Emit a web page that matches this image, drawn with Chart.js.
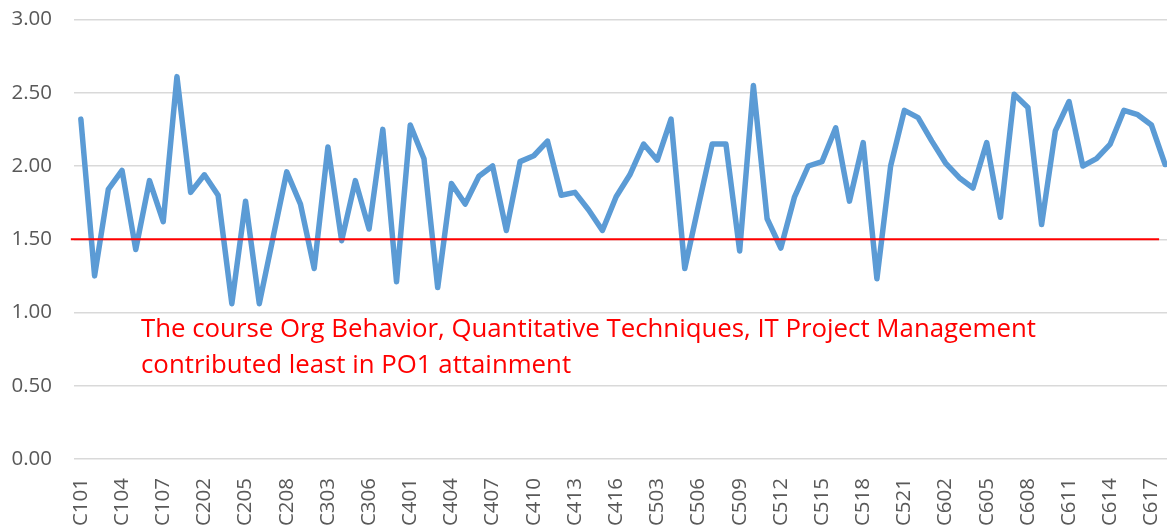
<!DOCTYPE html>
<html>
<head>
<meta charset="utf-8">
<script src="https://cdn.jsdelivr.net/npm/chart.js@4"></script>
<style>
	html, body { margin: 0; padding: 0; background: #fff; overflow: hidden; }
	#wrap { width: 1172px; height: 529px; }
</style>
</head>
<body>
<div id="wrap"><canvas id="chart" width="1172" height="529"></canvas></div>
<script>
const courses = [
	'C101', 'C102', 'C103', 'C104', 'C105', 'C106', 'C107', 'C108',
	'C201', 'C202', 'C203', 'C204', 'C205', 'C206', 'C207', 'C208',
	'C301', 'C302', 'C303', 'C304', 'C305', 'C306', 'C307', 'C308',
	'C401', 'C402', 'C403', 'C404', 'C405', 'C406', 'C407', 'C408',
	'C409', 'C410', 'C411', 'C412', 'C413', 'C414', 'C415', 'C416',
	'C501', 'C502', 'C503', 'C504', 'C505', 'C506', 'C507', 'C508', 'C509', 'C510', 'C511',
	'C512', 'C513', 'C514', 'C515', 'C516', 'C517', 'C518', 'C519', 'C520', 'C521', 'C522',
	'C601', 'C602', 'C603', 'C604', 'C605', 'C606', 'C607', 'C608', 'C609',
	'C610', 'C611', 'C612', 'C613', 'C614', 'C615', 'C616', 'C617', 'C618'
];
const attainment = [
	2.32, 1.25, 1.84, 1.97, 1.43, 1.90, 1.62, 2.61,
	1.82, 1.94, 1.80, 1.06, 1.76, 1.06, 1.51, 1.96,
	1.74, 1.30, 2.13, 1.49, 1.90, 1.57, 2.25, 1.21,
	2.28, 2.05, 1.17, 1.88, 1.74, 1.93, 2.00, 1.56,
	2.03, 2.07, 2.17, 1.80, 1.82, 1.70, 1.56, 1.79,
	1.94, 2.15, 2.04, 2.32, 1.30, 1.73, 2.15, 2.15, 1.42, 2.55, 1.64,
	1.44, 1.79, 2.00, 2.03, 2.26, 1.76, 2.16, 1.23, 2.00, 2.38, 2.33,
	2.17, 2.02, 1.92, 1.85, 2.16, 1.65, 2.49, 2.40, 1.60,
	2.24, 2.44, 2.00, 2.05, 2.15, 2.38, 2.35, 2.28, 2.01
];
const yTicks = [0, 0.5, 1, 1.5, 2, 2.5, 3];
const threshold = 1.5;
const note = [
	'The course Org Behavior, Quantitative Techniques, IT Project Management',
	'contributed least in PO1 attainment'
];
const font = '"Open Sans", "Noto Sans", sans-serif';

// red target line + annotation, drawn on top of the series
const overlay = {
	id: 'overlay',
	afterDatasetsDraw(chart) {
		const ctx = chart.ctx;
		const x = chart.scales.x;
		const y = chart.scales.y.getPixelForValue(threshold);
		ctx.save();
		ctx.strokeStyle = '#ff0000';
		ctx.lineWidth = 2;
		ctx.beginPath();
		ctx.moveTo(x.getPixelForValue(-0.73), y);
		ctx.lineTo(x.getPixelForValue(78.56), y);
		ctx.stroke();
		ctx.fillStyle = '#ff0000';
		ctx.font = '25.8px ' + font;
		ctx.textBaseline = 'alphabetic';
		ctx.fillText(note[0], 141, 337);
		ctx.fillText(note[1], 141, 373);
		ctx.restore();
	}
};

new Chart('chart', {
	type: 'line',
	data: {
		labels: courses,
		datasets: [{
			data: attainment,
			borderColor: '#5b9bd5',
			borderWidth: 5.5,
			borderJoinStyle: 'round',
			borderCapStyle: 'round',
			pointRadius: 0,
			tension: 0
		}]
	},
	options: {
		responsive: false,
		animation: false,
		devicePixelRatio: 1,
		layout: { padding: { top: 19.5, left: 0, right: 0, bottom: 0 } },
		plugins: {
			legend: { display: false },
			tooltip: { enabled: false }
		},
		scales: {
			x: {
				offset: true,
				grid: { display: false },
				border: { display: false },
				ticks: {
					autoSkip: false,
					minRotation: 90,
					maxRotation: 90,
					padding: 11,
					color: '#595959',
					font: { family: font, size: 20.5 },
					callback: (value, index) => index % 3 === 0 ? courses[index] : ''
				},
				afterFit: scale => {
					scale.height = 70;
					scale.paddingLeft = 0;
					scale.paddingRight = 0;
				}
			},
			y: {
				min: 0,
				max: 3,
				afterBuildTicks: scale => {
					scale.ticks = yTicks.map(v => ({ value: v }));
				},
				grid: { color: '#d9d9d9', lineWidth: 1.5, drawTicks: false },
				border: { display: false },
				ticks: {
					padding: 22,
					color: '#595959',
					font: { family: font, size: 20.5 },
					callback: value => Number(value).toFixed(2)
				},
				afterFit: scale => {
					scale.width = 74;
					scale.paddingTop = 0;
					scale.paddingBottom = 0;
				}
			}
		}
	},
	plugins: [overlay]
});
</script>
</body>
</html>
